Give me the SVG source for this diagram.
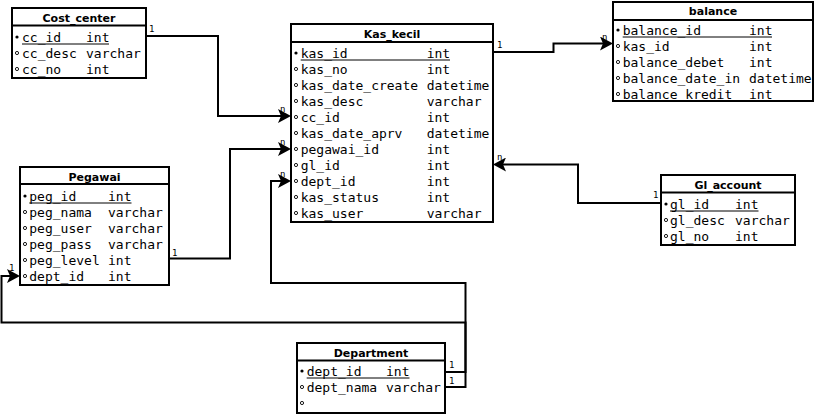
<svg xmlns="http://www.w3.org/2000/svg" width="818" height="414" viewBox="0 0 818 414">
<style>
.box{fill:#fff;stroke:#000;stroke-width:2}
.hl{stroke:#000;stroke-width:2}
.ul{stroke:#000;stroke-width:1}
.t{font-family:"DejaVu Sans",sans-serif;font-weight:bold;font-size:11px;text-anchor:middle;fill:#000}
.r{font-family:"DejaVu Sans Mono",monospace;font-size:13px;fill:#000}
.k{fill:#000}
.o{fill:none;stroke:#000;stroke-width:0.9}
.c{fill:none;stroke:#000;stroke-width:2}
.lb{font-family:"DejaVu Sans Mono",monospace;font-size:9px;fill:#000}
</style>
<defs>
<marker id="ah" markerUnits="userSpaceOnUse" viewBox="-5 -7 13 14" refX="0" refY="0" markerWidth="13" markerHeight="14" orient="auto">
<path d="M8,0 L-5,-7 L-2,0 L-5,7 Z" fill="#000"/>
</marker>
</defs>

<g id="connectors">
<path class="c" d="M146,36 H218 V116 H283" marker-end="url(#ah)"/>
<path class="c" d="M169,258.5 H230 V149 H283" marker-end="url(#ah)"/>
<path class="c" d="M445,372 H465.5 V283 H271 V181 H283" marker-end="url(#ah)"/>
<path class="c" d="M445,387 H465.5 V322.5 H1.5 V276 H12" marker-end="url(#ah)"/>
<path class="c" d="M493,52 H553.5 V43.5 H605" marker-end="url(#ah)"/>
<path class="c" d="M661,203 H578 V164.5 H501" marker-end="url(#ah)"/>
<text class="lb" x="149" y="32">1</text>
<text class="lb" x="280" y="112">n</text>
<text class="lb" x="172" y="256">1</text>
<text class="lb" x="280" y="145">n</text>
<text class="lb" x="449" y="368">1</text>
<text class="lb" x="449" y="384">1</text>
<text class="lb" x="280" y="177">n</text>
<text class="lb" x="9" y="271">1</text>
<text class="lb" x="497" y="48">1</text>
<text class="lb" x="602" y="40">n</text>
<text class="lb" x="497" y="160">n</text>
<text class="lb" x="653" y="198">1</text>
</g>

<g id="Cost_center">
<rect class="box" x="12" y="8" width="134" height="70"/>
<line class="hl" x1="12" y1="25.5" x2="146" y2="25.5"/>
<text class="t" x="79" y="22">Cost_center</text>
<circle class="k" cx="17" cy="37" r="1.6"/>
<text class="r" x="22" y="42">cc_id</text><text class="r" x="86" y="42">int</text>
<line class="ul" x1="22" y1="44" x2="109" y2="44"/>
<circle class="o" cx="17" cy="53" r="1.6"/>
<text class="r" x="22" y="58">cc_desc</text><text class="r" x="86" y="58">varchar</text>
<circle class="o" cx="17" cy="69" r="1.6"/>
<text class="r" x="22" y="74">cc_no</text><text class="r" x="86" y="74">int</text>
</g>

<g id="Kas_kecil">
<rect class="box" x="291" y="24" width="202" height="198"/>
<line class="hl" x1="291" y1="42" x2="493" y2="42"/>
<text class="t" x="392" y="38">Kas_kecil</text>
<circle class="k" cx="296" cy="53" r="1.6"/>
<text class="r" x="300.7" y="58">kas_id</text><text class="r" x="426.7" y="58">int</text>
<line class="ul" x1="300.7" y1="60" x2="450" y2="60"/>
<circle class="o" cx="296" cy="69" r="1.6"/>
<text class="r" x="300.7" y="74">kas_no</text><text class="r" x="426.7" y="74">int</text>
<circle class="o" cx="296" cy="85" r="1.6"/>
<text class="r" x="300.7" y="90">kas_date_create</text><text class="r" x="426.7" y="90">datetime</text>
<circle class="o" cx="296" cy="101" r="1.6"/>
<text class="r" x="300.7" y="106">kas_desc</text><text class="r" x="426.7" y="106">varchar</text>
<circle class="o" cx="296" cy="117" r="1.6"/>
<text class="r" x="300.7" y="122">cc_id</text><text class="r" x="426.7" y="122">int</text>
<circle class="o" cx="296" cy="133" r="1.6"/>
<text class="r" x="300.7" y="138">kas_date_aprv</text><text class="r" x="426.7" y="138">datetime</text>
<circle class="o" cx="296" cy="149" r="1.6"/>
<text class="r" x="300.7" y="154">pegawai_id</text><text class="r" x="426.7" y="154">int</text>
<circle class="o" cx="296" cy="165" r="1.6"/>
<text class="r" x="300.7" y="170">gl_id</text><text class="r" x="426.7" y="170">int</text>
<circle class="o" cx="296" cy="181" r="1.6"/>
<text class="r" x="300.7" y="186">dept_id</text><text class="r" x="426.7" y="186">int</text>
<circle class="o" cx="296" cy="197" r="1.6"/>
<text class="r" x="300.7" y="202">kas_status</text><text class="r" x="426.7" y="202">int</text>
<circle class="o" cx="296" cy="213" r="1.6"/>
<text class="r" x="300.7" y="218">kas_user</text><text class="r" x="426.7" y="218">varchar</text>
</g>

<g id="balance">
<rect class="box" x="613" y="2" width="200" height="99"/>
<line class="hl" x1="613" y1="20" x2="813" y2="20"/>
<text class="t" x="713" y="15">balance</text>
<circle class="k" cx="618" cy="30" r="1.6"/>
<text class="r" x="622.7" y="35">balance_id</text><text class="r" x="749" y="35">int</text>
<line class="ul" x1="622.7" y1="37" x2="772" y2="37"/>
<circle class="o" cx="618" cy="46" r="1.6"/>
<text class="r" x="622.7" y="51">kas_id</text><text class="r" x="749" y="51">int</text>
<circle class="o" cx="618" cy="62" r="1.6"/>
<text class="r" x="622.7" y="67">balance_debet</text><text class="r" x="749" y="67">int</text>
<circle class="o" cx="618" cy="78" r="1.6"/>
<text class="r" x="622.7" y="83">balance_date_in</text><text class="r" x="749" y="83">datetime</text>
<circle class="o" cx="618" cy="94" r="1.6"/>
<text class="r" x="622.7" y="99">balance_kredit</text><text class="r" x="749" y="99">int</text>
</g>

<g id="Pegawai">
<rect class="box" x="20" y="167" width="149" height="118"/>
<line class="hl" x1="20" y1="184" x2="169" y2="184"/>
<text class="t" x="94.5" y="181">Pegawai</text>
<circle class="k" cx="25" cy="196" r="1.6"/>
<text class="r" x="29.3" y="201">peg_id</text><text class="r" x="108" y="201">int</text>
<line class="ul" x1="29.3" y1="203" x2="131.5" y2="203"/>
<circle class="o" cx="25" cy="212" r="1.6"/>
<text class="r" x="29.3" y="217">peg_nama</text><text class="r" x="108" y="217">varchar</text>
<circle class="o" cx="25" cy="228" r="1.6"/>
<text class="r" x="29.3" y="233">peg_user</text><text class="r" x="108" y="233">varchar</text>
<circle class="o" cx="25" cy="244" r="1.6"/>
<text class="r" x="29.3" y="249">peg_pass</text><text class="r" x="108" y="249">varchar</text>
<circle class="o" cx="25" cy="260" r="1.6"/>
<text class="r" x="29.3" y="265">peg_level</text><text class="r" x="108" y="265">int</text>
<circle class="o" cx="25" cy="276" r="1.6"/>
<text class="r" x="29.3" y="281">dept_id</text><text class="r" x="108" y="281">int</text>
</g>

<g id="Gl_account">
<rect class="box" x="661" y="175" width="134" height="70"/>
<line class="hl" x1="661" y1="192.5" x2="795" y2="192.5"/>
<text class="t" x="728" y="189">Gl_account</text>
<circle class="k" cx="666" cy="204" r="1.6"/>
<text class="r" x="670" y="209">gl_id</text><text class="r" x="735" y="209">int</text>
<line class="ul" x1="670" y1="211" x2="758.5" y2="211"/>
<circle class="o" cx="666" cy="220" r="1.6"/>
<text class="r" x="670" y="225">gl_desc</text><text class="r" x="735" y="225">varchar</text>
<circle class="o" cx="666" cy="236" r="1.6"/>
<text class="r" x="670" y="241">gl_no</text><text class="r" x="735" y="241">int</text>
</g>

<g id="Department">
<rect class="box" x="297" y="343" width="148" height="70"/>
<line class="hl" x1="297" y1="360.5" x2="445" y2="360.5"/>
<text class="t" x="371" y="357">Department</text>
<circle class="k" cx="302" cy="371" r="1.6"/>
<text class="r" x="306.7" y="376">dept_id</text><text class="r" x="386" y="376">int</text>
<line class="ul" x1="306.7" y1="378" x2="409.5" y2="378"/>
<circle class="o" cx="302" cy="387" r="1.6"/>
<text class="r" x="306.7" y="392">dept_nama</text><text class="r" x="386" y="392">varchar</text>
<circle class="o" cx="302" cy="403" r="1.6"/>
</g>
</svg>
